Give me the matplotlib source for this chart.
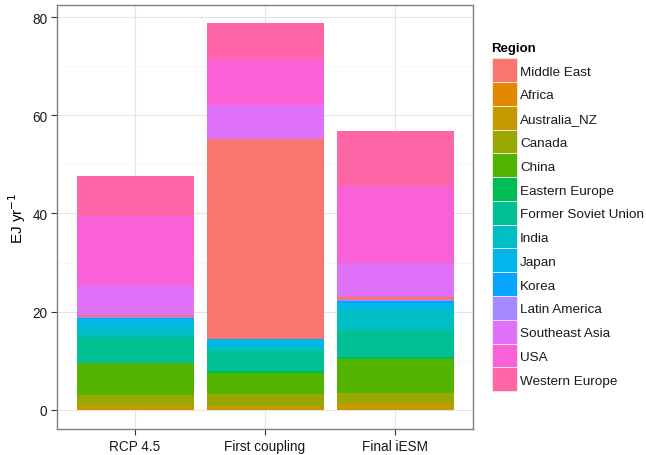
import matplotlib
matplotlib.use('Agg')
import matplotlib.pyplot as plt
from matplotlib.patches import Rectangle
import numpy as np

plt.rcParams['font.family'] = ['Liberation Sans', 'DejaVu Sans']

scenarios = ['RCP 4.5', 'First coupling', 'Final iESM']

# legend order (factor levels)
legend_regions = ['Middle East', 'Africa', 'Australia_NZ', 'Canada', 'China',
                  'Eastern Europe', 'Former Soviet Union', 'India', 'Japan',
                  'Korea', 'Latin America', 'Southeast Asia', 'USA',
                  'Western Europe']
legend_colors = ['#F8766D', '#E38900', '#C49A00', '#99A800', '#53B400',
                 '#00BC56', '#00C094', '#00BFC4', '#00B6EB', '#06A4FF',
                 '#A58AFF', '#DF70F8', '#FB61D7', '#FF66A8']

# stacking order, bottom to top
stack_regions = ['Africa', 'Australia_NZ', 'Canada', 'China', 'Eastern Europe',
                 'Former Soviet Union', 'India', 'Japan', 'Korea',
                 'Latin America', 'Middle East', 'Southeast Asia', 'USA',
                 'Western Europe']

# EJ/yr per region, for RCP 4.5 / First coupling / Final iESM
values = {
    'Africa':              [0.0, 0.0, 0.0],
    'Australia_NZ':        [1.0, 0.8, 1.3],
    'Canada':              [1.9, 2.5, 2.2],
    'China':               [6.6, 4.2, 6.9],
    'Eastern Europe':      [0.1, 0.3, 0.4],
    'Former Soviet Union': [5.3, 4.1, 5.4],
    'India':               [2.0, 1.1, 4.3],
    'Japan':               [1.5, 1.3, 1.3],
    'Korea':               [0.2, 0.1, 0.3],
    'Latin America':       [0.3, 0.1, 0.2],
    'Middle East':         [0.5, 40.7, 0.7],
    'Southeast Asia':      [6.1, 7.0, 6.9],
    'USA':                 [14.0, 9.3, 15.7],
    'Western Europe':      [8.2, 7.3, 11.3],
}

color_of = dict(zip(legend_regions, legend_colors))

W, H = 646, 456
fig = plt.figure(figsize=(W / 100, H / 100), dpi=100)
ax = fig.add_axes([57 / W, 26 / H, 416 / W, 424 / H])

x = np.arange(1, len(scenarios) + 1)
bottom = np.zeros(len(scenarios))
for reg in stack_regions:
    v = np.array(values[reg])
    ax.bar(x, v, width=0.9, bottom=bottom, color=color_of[reg],
           linewidth=0, zorder=3)
    bottom += v

ax.set_xlim(0.4, 3.6)
ax.set_ylim(-3.93, 82.5)
ax.set_xticks(x)
ax.set_xticklabels(scenarios)
ax.set_yticks([0, 20, 40, 60, 80])
ax.set_yticks([10, 30, 50, 70], minor=True)
ax.tick_params(axis='both', which='major', length=4, width=0.8,
               color='#333333', labelsize=9.8, labelcolor='#1a1a1a', pad=3)
ax.tick_params(axis='y', which='minor', length=0)
ax.grid(True, which='major', color='#e5e5e5', linewidth=0.8, zorder=0)
ax.grid(True, which='minor', axis='y', color='#f4f4f4', linewidth=0.5, zorder=0)
for s in ax.spines.values():
    s.set_color('#7f7f7f')
    s.set_linewidth(1.0)
ax.set_ylabel('EJ yr$^{-1}$', fontsize=11, labelpad=3)

# legend drawn as keys beside the panel
fig.text(491 / W, 1 - 49 / H, 'Region', fontsize=9.5, fontweight='bold',
         va='center', ha='left')
key_top = 59.3
key_h = 23.77
for i, (reg, col) in enumerate(zip(legend_regions, legend_colors)):
    y0 = key_top + i * key_h
    fig.add_artist(Rectangle((492 / W, 1 - (y0 + key_h) / H), 25 / W, key_h / H,
                             transform=fig.transFigure, facecolor=col,
                             edgecolor='#eeeeee', linewidth=0.6))
    fig.text(520 / W, 1 - (y0 + key_h / 2 + 1.5) / H, reg, fontsize=9.7,
             va='center', ha='left', color='#1a1a1a')

fig.savefig('out.png', dpi=100)
